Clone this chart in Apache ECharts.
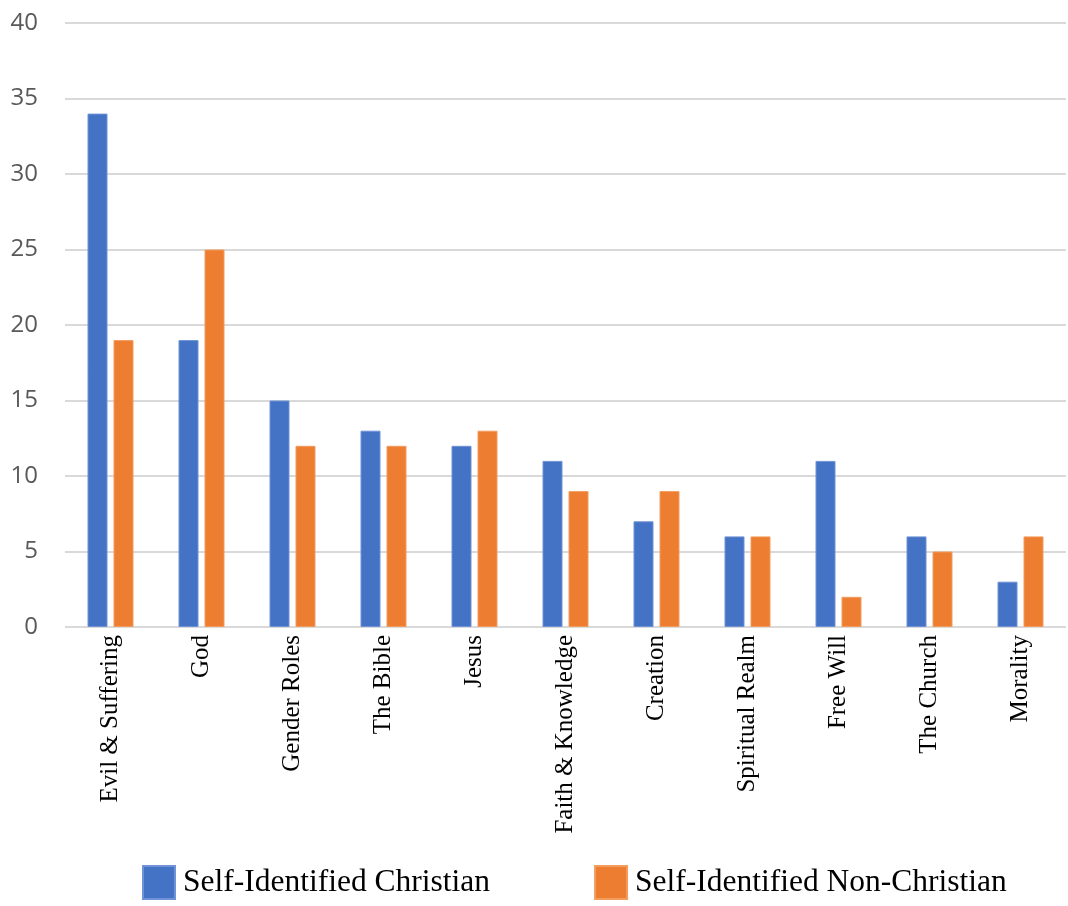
<!DOCTYPE html>
<html>
<head>
<meta charset="utf-8">
<script src="https://cdn.jsdelivr.net/npm/echarts@6/dist/echarts.min.js"></script>
<style>
  html, body { margin: 0; padding: 0; background: #fff; }
  #chart { width: 1068px; height: 906px; }
</style>
</head>
<body>
<div id="chart"></div>
<script>
const categories = ['Evil & Suffering', 'God', 'Gender Roles', 'The Bible', 'Jesus',
  'Faith & Knowledge', 'Creation', 'Spiritual Realm', 'Free Will', 'The Church', 'Morality'];
const christian = [34, 19, 15, 13, 12, 11, 7, 6, 11, 6, 3];
const nonChristian = [19, 25, 12, 12, 13, 9, 9, 6, 2, 5, 6];
const seriesNames = ['Self-Identified Christian', 'Self-Identified Non-Christian'];

const chart = echarts.init(document.getElementById('chart'), null, { renderer: 'canvas' });
chart.setOption({
  animation: false,
  backgroundColor: '#ffffff',
  grid: { left: 65, right: 2, top: 23, bottom: 279, containLabel: false },
  legend: {
    bottom: 1,
    left: 137,
    itemWidth: 32,
    itemHeight: 33,
    itemGap: 104,
    icon: 'rect',
    textStyle: { fontFamily: 'Liberation Serif', fontSize: 31.5, color: '#000', padding: [0, 0, 0, 3] },
    data: seriesNames
  },
  xAxis: {
    type: 'category',
    data: categories,
    axisLine: { show: false },
    axisTick: { show: false },
    axisLabel: {
      rotate: 90,
      interval: 0,
      margin: 8,
      fontFamily: 'Liberation Serif',
      fontSize: 25,
      color: '#000'
    }
  },
  yAxis: {
    type: 'value',
    min: 0,
    max: 40,
    interval: 5,
    axisLine: { show: false },
    axisTick: { show: false },
    splitLine: { lineStyle: { color: '#d9d9d9', width: 2 } },
    axisLabel: {
      margin: 27,
      fontFamily: 'Open Sans',
      fontSize: 24,
      color: '#595959'
    }
  },
  series: [
    {
      name: seriesNames[0],
      type: 'bar',
      data: christian,
      barWidth: 20,
      barGap: '30%',
      itemStyle: { color: '#4472C4', borderColor: '#6f93d6', borderWidth: 1 }
    },
    {
      name: seriesNames[1],
      type: 'bar',
      data: nonChristian,
      barWidth: 20,
      itemStyle: { color: '#ED7D31', borderColor: '#f29c5e', borderWidth: 1 }
    }
  ]
});
</script>
</body>
</html>
